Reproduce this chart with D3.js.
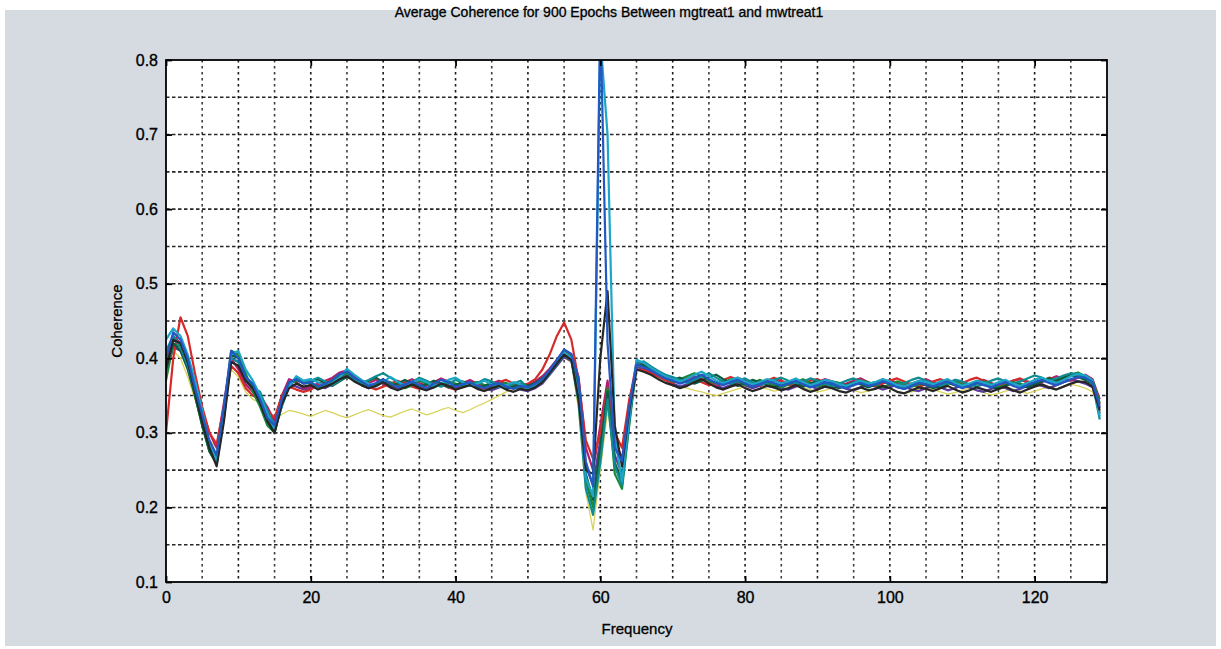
<!DOCTYPE html>
<html>
<head>
<meta charset="utf-8">
<script src="https://cdn.jsdelivr.net/npm/d3@7"></script>
<style>
  body { margin: 0; background: #fff; }
  svg text { font-family: "Liberation Sans Narrow", "Liberation Sans", Arial, sans-serif; fill: #000; }
</style>
</head>
<body>
<div id="chart"></div>
<script>
'use strict';

// frequency bins 0..129
var frequencies = d3.range(0, 130);

var xTicks = [0, 20, 40, 60, 80, 100, 120];
var yTicks = [0.1, 0.2, 0.3, 0.4, 0.5, 0.6, 0.7, 0.8];
var titleText = 'Average Coherence for 900 Epochs Between mgtreat1 and mwtreat1';

var seriesColors = ['#2158c4', '#1ea6c8', '#262626', '#17873a', '#b01f6c',
                    '#d62a2a', '#0f8c92', '#5b3b9b', '#0d5c3b', '#d9d35a'];

var s1 = [.40,.435,.425,.40,.36,.325,.29,.27,.335,.41, .40,.375,.365,.345,.32,.31,.345,.368,.372,.366,
  .368,.362,.366,.371,.379,.382,.374,.369,.363,.367, .372,.366,.361,.365,.369,.364,.360,.366,.371,.368,
  .362,.365,.368,.363,.360,.364,.367,.362,.359,.363,
  .361,.366,.372,.384,.398,.412,.406,.372,.262,.228, .860,.420,.280,.262,.335,.392,.388,.384,.378,.373,
  .370,.366,.369,.374,.378,.372,.367,.364,.368,.371, .366,.362,.365,.369,.367,.363,.366,.370,.365,.361,
  .364,.368,.366,.362,.360,.364,.367,.363,.365,.369, .366,.361,.359,.363,.367,.365,.362,.366,.369,.364,
  .360,.363,.367,.364,.361,.365,.368,.363,.360,.364, .368,.371,.367,.364,.368,.372,.375,.374,.368,.335];

var s2 = [.425,.44,.43,.405,.37,.33,.285,.262,.32,.405, .41,.385,.37,.35,.325,.305,.335,.362,.376,.37,
  .372,.368,.363,.367,.374,.386,.378,.371,.366,.362, .368,.375,.369,.363,.367,.372,.368,.362,.366,.371,
  .374,.368,.363,.366,.370,.365,.361,.364,.368,.365,
  .358,.362,.368,.379,.394,.408,.400,.350,.240,.215, .830,.700,.295,.235,.320,.398,.394,.387,.381,.376,
  .372,.369,.373,.378,.382,.376,.370,.366,.371,.374, .369,.365,.368,.372,.370,.366,.369,.373,.368,.364,
  .367,.371,.369,.365,.363,.367,.370,.366,.368,.372, .369,.364,.362,.366,.370,.368,.365,.369,.372,.367,
  .363,.366,.370,.367,.364,.368,.371,.366,.363,.367, .371,.374,.370,.367,.371,.376,.379,.377,.370,.322];

var s3 = [.385,.425,.42,.395,.355,.315,.28,.255,.315,.395, .39,.37,.36,.34,.315,.30,.338,.36,.366,.362,
  .364,.358,.362,.366,.372,.376,.369,.364,.360,.363, .368,.361,.357,.361,.365,.360,.357,.361,.366,.363,
  .358,.361,.364,.359,.356,.360,.363,.358,.355,.359,
  .357,.361,.368,.380,.393,.405,.398,.345,.250,.245, .400,.490,.310,.255,.330,.385,.382,.378,.372,.367,
  .364,.360,.363,.368,.372,.366,.361,.358,.362,.365, .360,.356,.359,.363,.361,.357,.360,.364,.359,.355,
  .358,.362,.360,.356,.354,.358,.361,.357,.359,.363, .360,.355,.353,.357,.361,.359,.356,.360,.363,.358,
  .354,.357,.361,.358,.355,.359,.362,.357,.354,.358, .362,.365,.361,.358,.362,.366,.369,.368,.362,.330];

var s4 = [.37,.42,.415,.39,.35,.31,.275,.26,.33,.41, .405,.38,.355,.335,.31,.30,.34,.365,.37,.368,
  .366,.361,.364,.369,.376,.38,.372,.366,.362,.365, .370,.368,.363,.360,.364,.370,.366,.361,.365,.369,
  .366,.362,.366,.368,.364,.360,.364,.367,.363,.360,
  .362,.365,.370,.381,.395,.408,.402,.360,.235,.200, .270,.360,.245,.225,.310,.390,.390,.385,.380,.374,
  .369,.372,.376,.380,.376,.370,.366,.368,.372,.369, .364,.367,.371,.368,.364,.361,.365,.368,.372,.367,
  .362,.365,.369,.367,.363,.366,.370,.368,.364,.361, .365,.369,.366,.362,.365,.368,.364,.361,.366,.369,
  .365,.362,.366,.369,.365,.361,.364,.368,.366,.362, .366,.370,.373,.369,.372,.378,.381,.376,.371,.340];

var s5 = [.395,.43,.42,.40,.365,.33,.30,.28,.34,.40, .385,.365,.355,.35,.335,.315,.35,.372,.368,.36,
  .362,.366,.37,.374,.381,.384,.376,.370,.367,.371, .366,.361,.364,.368,.372,.367,.363,.368,.373,.369,
  .364,.367,.371,.366,.362,.366,.370,.365,.361,.366,
  .364,.369,.376,.386,.398,.410,.405,.375,.280,.250, .310,.370,.290,.265,.340,.395,.392,.386,.381,.377,
  .373,.368,.371,.376,.372,.367,.363,.366,.370,.374, .370,.366,.363,.367,.371,.368,.364,.367,.370,.366,
  .368,.372,.369,.364,.366,.370,.373,.368,.364,.367, .371,.367,.363,.366,.369,.372,.368,.364,.367,.371,
  .368,.364,.368,.371,.367,.363,.366,.370,.372,.367, .364,.368,.372,.376,.373,.370,.374,.378,.372,.345];

var s6 = [.30,.40,.455,.43,.38,.335,.30,.285,.335,.39, .38,.36,.35,.345,.33,.32,.35,.362,.358,.355,
  .358,.364,.368,.372,.378,.380,.372,.366,.362,.358, .362,.366,.370,.366,.362,.359,.364,.368,.365,.361,
  .358,.362,.366,.362,.359,.363,.368,.371,.366,.362,
  .366,.372,.385,.405,.430,.448,.425,.370,.290,.265, .300,.360,.300,.280,.345,.385,.384,.380,.376,.371,
  .367,.371,.375,.372,.368,.364,.367,.371,.375,.371, .367,.363,.366,.370,.374,.370,.366,.363,.366,.370,
  .372,.368,.364,.361,.364,.368,.371,.367,.363,.366, .370,.373,.369,.365,.362,.365,.369,.372,.368,.364,
  .367,.371,.374,.370,.366,.363,.366,.370,.373,.369, .366,.370,.374,.371,.375,.379,.376,.373,.368,.338];

var s7 = [.41,.43,.415,.39,.355,.32,.285,.27,.33,.40, .395,.37,.36,.355,.33,.31,.34,.363,.374,.368,
  .370,.374,.369,.364,.370,.377,.372,.367,.371,.376, .380,.374,.368,.364,.368,.374,.370,.365,.362,.366,
  .371,.368,.363,.367,.372,.369,.364,.361,.366,.370,
  .360,.363,.369,.380,.392,.404,.398,.340,.225,.190, .260,.345,.255,.230,.315,.392,.396,.389,.383,.378,
  .375,.371,.367,.371,.376,.380,.374,.369,.366,.370, .373,.368,.364,.367,.371,.374,.370,.366,.369,.373,
  .370,.366,.362,.366,.370,.373,.369,.365,.368,.372, .368,.364,.367,.371,.374,.370,.366,.363,.367,.371,
  .369,.365,.362,.366,.370,.373,.369,.366,.369,.373, .377,.374,.370,.373,.377,.380,.378,.374,.366,.318];

var s8 = [.38,.415,.41,.39,.355,.32,.285,.265,.325,.40, .395,.37,.36,.345,.32,.31,.345,.366,.362,.358,
  .360,.364,.360,.365,.374,.378,.370,.364,.360,.364, .369,.364,.360,.363,.367,.363,.359,.363,.367,.364,
  .360,.364,.368,.364,.360,.357,.361,.365,.362,.358,
  .356,.360,.366,.378,.390,.402,.396,.355,.255,.230, .290,.350,.270,.245,.325,.388,.386,.382,.376,.371,
  .366,.362,.365,.369,.372,.368,.363,.360,.364,.368, .364,.360,.363,.367,.364,.360,.358,.362,.366,.363,
  .359,.362,.366,.363,.359,.357,.361,.365,.362,.358, .361,.365,.362,.358,.356,.360,.364,.361,.357,.360,
  .364,.361,.357,.355,.359,.363,.360,.356,.359,.363, .366,.363,.360,.364,.368,.371,.369,.366,.361,.333];

var s9 = [.39,.42,.41,.385,.35,.31,.275,.258,.32,.405, .40,.375,.365,.35,.32,.302,.336,.364,.372,.366,
  .368,.372,.367,.363,.369,.375,.371,.366,.370,.374, .368,.363,.366,.371,.367,.362,.365,.370,.366,.361,
  .364,.369,.365,.360,.363,.368,.364,.359,.362,.366,
  .363,.367,.373,.383,.396,.406,.400,.365,.245,.210, .280,.355,.260,.235,.318,.393,.391,.386,.380,.375,
  .371,.374,.370,.366,.370,.375,.378,.372,.367,.363, .367,.371,.368,.364,.361,.365,.369,.366,.362,.366,
  .370,.367,.363,.360,.364,.368,.365,.361,.365,.369, .366,.362,.359,.363,.367,.364,.360,.363,.367,.364,
  .361,.365,.369,.366,.362,.359,.363,.367,.364,.361, .365,.369,.373,.370,.374,.377,.375,.371,.365,.326];

var s10 = [.38,.41,.40,.375,.345,.315,.29,.28,.33,.385, .375,.355,.345,.34,.325,.315,.325,.33,.328,.325,
  .322,.326,.33,.327,.323,.320,.324,.328,.331,.327, .323,.321,.325,.329,.332,.328,.324,.327,.331,.334,
  .330,.327,.331,.336,.340,.345,.350,.355,.358,.360,
  .362,.366,.372,.382,.392,.400,.395,.330,.220,.170, .250,.330,.270,.240,.320,.385,.383,.379,.374,.369,
  .365,.362,.360,.357,.355,.352,.350,.353,.356,.359, .362,.365,.362,.359,.356,.358,.361,.364,.361,.358,
  .355,.357,.360,.363,.360,.357,.354,.356,.359,.362, .359,.356,.353,.355,.358,.361,.358,.355,.352,.354,
  .357,.360,.357,.354,.351,.353,.356,.359,.356,.353, .356,.359,.362,.359,.362,.365,.363,.360,.355,.335];

// drawing order: faint yellow first, spiky ones last so they stay on top
var allSeries = [s10, s8, s5, s6, s4, s9, s7, s2, s3, s1];
var allColors = [seriesColors[9], seriesColors[7], seriesColors[4], seriesColors[5], seriesColors[3],
                 seriesColors[8], seriesColors[6], seriesColors[1], seriesColors[2], seriesColors[0]];

var width = 1221;
var height = 649;
var plot = {left: 166, top: 60, right: 1107, bottom: 582};

var svg = d3.select('#chart')
            .append('svg')
            .attr('width', width)
            .attr('height', height);

// gray figure background
svg.append('rect')
    .attr('x', 5).attr('y', 10)
    .attr('width', 1211).attr('height', 636)
    .attr('fill', '#d5dbe0');

svg.append('rect')
    .attr('x', plot.left).attr('y', plot.top)
    .attr('width', plot.right - plot.left)
    .attr('height', plot.bottom - plot.top)
    .attr('fill', '#fff');

var x = d3.scaleLinear().domain([0, 130]).range([plot.left, plot.right]);
var y = d3.scaleLinear().domain([0.1, 0.8]).range([plot.bottom, plot.top]);

// dotted grid, every 5 Hz and every 0.05
var grid = svg.append('g').attr('class', 'grid');
grid.selectAll('.vgrid')
    .data(d3.range(5, 130, 5))
    .enter()
    .append('line')
    .attr('x1', function(d) { return x(d); })
    .attr('x2', function(d) { return x(d); })
    .attr('y1', plot.top)
    .attr('y2', plot.bottom)
    .style('stroke', '#111')
    .style('stroke-width', 1.6)
    .style('stroke-dasharray', '2.5,3.5')
    .style('opacity', function(d) { return d % 10 === 0 ? 0.95 : 0.8; });

grid.selectAll('.hgrid')
    .data(d3.range(0.15, 0.8, 0.05))
    .enter()
    .append('line')
    .attr('y1', function(d) { return y(d); })
    .attr('y2', function(d) { return y(d); })
    .attr('x1', plot.left)
    .attr('x2', plot.right)
    .style('stroke', '#111')
    .style('stroke-width', 1.6)
    .style('stroke-dasharray', '3.5,2.5')
    .style('opacity', 0.9);

svg.append('clipPath')
    .attr('id', 'plot-clip')
    .append('rect')
    .attr('x', plot.left).attr('y', plot.top)
    .attr('width', plot.right - plot.left)
    .attr('height', plot.bottom - plot.top);

var line = d3.line()
    .x(function(d, i) { return x(frequencies[i]); })
    .y(function(d) { return y(d); });

svg.append('g')
    .attr('clip-path', 'url(#plot-clip)')
    .selectAll('path')
    .data(allSeries)
    .enter()
    .append('path')
    .attr('d', line)
    .attr('fill', 'none')
    .style('stroke', function(d, i) { return allColors[i]; })
    .style('stroke-width', function(d, i) { return i === 0 ? 1.3 : 2.2; })
    .style('stroke-linejoin', 'round');

// axes: ticks inside, on all four sides like matlab box
var tickSize = 6;
svg.append('g')
    .attr('transform', 'translate(0,' + plot.bottom + ')')
    .call(d3.axisBottom(x).tickValues(xTicks).tickSizeInner(-tickSize).tickSizeOuter(0).tickPadding(10))
    .call(function(g) { g.select('.domain').remove(); });

svg.append('g')
    .attr('transform', 'translate(0,' + plot.top + ')')
    .call(d3.axisTop(x).tickValues(xTicks).tickSizeInner(-tickSize).tickSizeOuter(0).tickFormat(''))
    .call(function(g) { g.select('.domain').remove(); });

svg.append('g')
    .attr('transform', 'translate(' + plot.left + ',0)')
    .call(d3.axisLeft(y).tickValues(yTicks).tickSizeInner(-tickSize).tickSizeOuter(0).tickPadding(8)
        .tickFormat(d3.format('.1f')))
    .call(function(g) { g.select('.domain').remove(); });

svg.append('g')
    .attr('transform', 'translate(' + plot.right + ',0)')
    .call(d3.axisRight(y).tickValues(yTicks).tickSizeInner(-tickSize).tickSizeOuter(0).tickFormat(''))
    .call(function(g) { g.select('.domain').remove(); });

svg.selectAll('.tick line').style('stroke', '#000').style('stroke-width', 1.8);
svg.selectAll('.tick text')
    .style('font-size', '16px')
    .style('font-family', '"Liberation Sans Narrow", "Liberation Sans", Arial, sans-serif')
    .style('fill', '#000')
    .style('stroke', '#000')
    .style('stroke-width', 0.35);

svg.append('rect')
    .attr('x', plot.left).attr('y', plot.top)
    .attr('width', plot.right - plot.left)
    .attr('height', plot.bottom - plot.top)
    .attr('fill', 'none')
    .style('stroke', '#000')
    .style('stroke-width', 1.8);

// labels
svg.append('text')
    .attr('x', 609)
    .attr('y', 17)
    .attr('text-anchor', 'middle')
    .style('font-size', '14px')
    .style('stroke', '#000')
    .style('stroke-width', 0.3)
    .text(titleText);

svg.append('text')
    .attr('x', 637)
    .attr('y', 634)
    .attr('text-anchor', 'middle')
    .style('font-size', '15px')
    .style('stroke', '#000')
    .style('stroke-width', 0.3)
    .text('Frequency');

svg.append('text')
    .attr('transform', 'translate(122,' + ((plot.top + plot.bottom) / 2) + ') rotate(-90)')
    .attr('text-anchor', 'middle')
    .style('font-size', '15px')
    .style('stroke', '#000')
    .style('stroke-width', 0.3)
    .text('Coherence');
</script>
</body>
</html>
